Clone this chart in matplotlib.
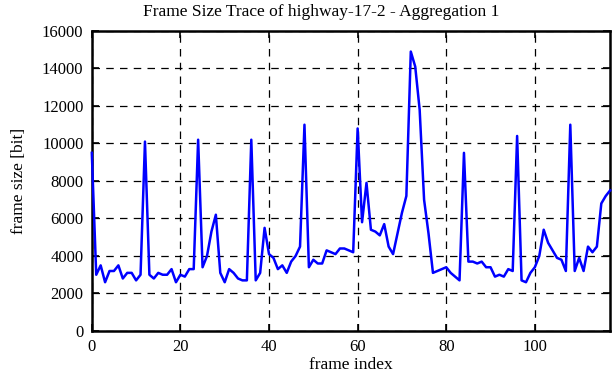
import numpy as np
import matplotlib
matplotlib.use("Agg")
import matplotlib.pyplot as plt

# frame sizes (bit), frame index 0..117
frame_size = [
    9500, 3000, 3500, 2600, 3200, 3200, 3500, 2800, 3100, 3100,
    2700, 3000, 10100, 3000, 2800, 3100, 3000, 3000, 3300, 2600,
    3000, 2900, 3300, 3300, 10200, 3400, 4000, 5300, 6200, 3100,
    2600, 3300, 3100, 2800, 2700, 2700, 10200, 2700, 3100, 5500,
    4100, 3900, 3300, 3500, 3100, 3700, 4000, 4500, 11000, 3400,
    3800, 3600, 3600, 4300, 4200, 4100, 4400, 4400, 4300, 4200,
    10800, 5800, 7900, 5400, 5300, 5100, 5700, 4500, 4100, 5200,
    6300, 7200, 14900, 14100, 11800, 7000, 5200, 3100, 3200, 3300,
    3400, 3100, 2900, 2700, 9500, 3700, 3700, 3600, 3700, 3400,
    3400, 2900, 3000, 2900, 3300, 3200, 10400, 2700, 2600, 3100,
    3400, 4000, 5400, 4700, 4300, 3900, 3800, 3200, 11000, 3200,
    3900, 3200, 4500, 4200, 4500, 6800, 7200, 7500,
]
frame_index = np.arange(len(frame_size))

plt.rcParams['font.family'] = ['Liberation Serif', 'DejaVu Serif']

fig = plt.figure(figsize=(6.12, 3.82), dpi=100)
ax = fig.add_axes([0.150, 0.1335, 0.847, 0.7855])

ax.plot(frame_index, frame_size, color='#0000ff', lw=1.8, zorder=5, clip_on=False)

ax.set_xlim(0, 117)
ax.set_ylim(0, 16000)
ax.set_xticks(range(0, 101, 20))
ax.set_yticks(range(0, 16001, 2000))

ax.grid(True, color='black', linestyle=(0, (6, 5)), linewidth=0.9)
ax.tick_params(direction='in', length=5, width=1.2, top=True, right=True,
               labelsize=12, pad=6)
for s in ax.spines.values():
    s.set_linewidth(1.8)

ax.set_xlabel('frame index', fontsize=12.5, labelpad=1)
ax.set_ylabel('frame size [bit]', fontsize=12.5, labelpad=11)
fig.text(321 / 612, 1 - 12 / 382, 'Frame Size Trace of highway-17-2 - Aggregation 1',
         fontsize=12.5, ha='center', va='center')

fig.savefig('out.png', dpi=100)
